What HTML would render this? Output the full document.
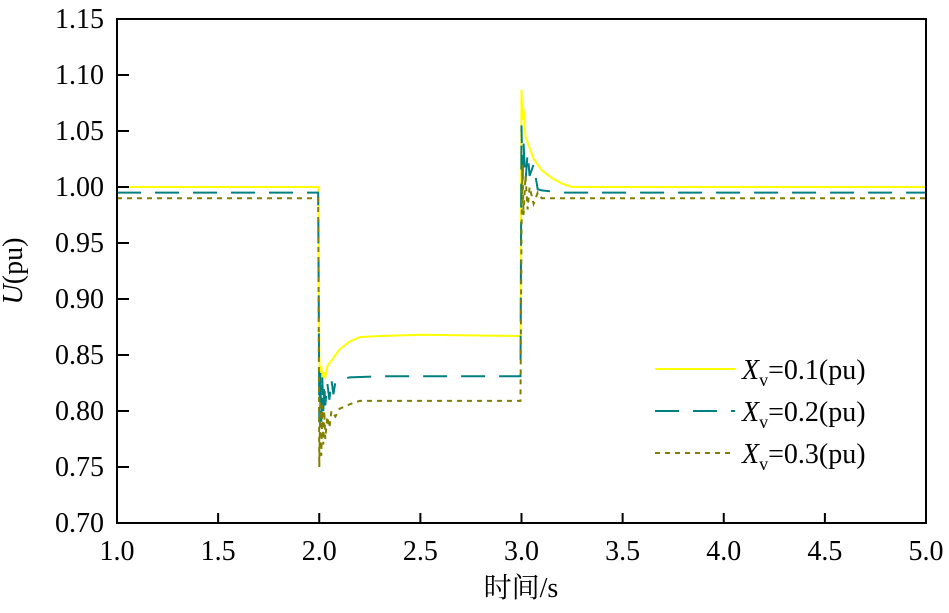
<!DOCTYPE html>
<html><head><meta charset="utf-8"><style>
body{margin:0;background:#fff}
svg text{font-family:"Liberation Serif","Noto Serif CJK SC",serif;fill:#000}
</style></head><body>
<svg width="949" height="608" xmlns="http://www.w3.org/2000/svg">
<g id="plot"></g>
<rect x="117" y="19" width="809" height="504" fill="none" stroke="#000" stroke-width="2"/>
<g id="axes"></g>
<text x="22" y="271" font-size="28" text-anchor="middle" transform="rotate(-90 22 271)"><tspan font-style="italic">U</tspan>(pu)</text>
<text x="521" y="597" font-size="28" text-anchor="middle">时间/s</text>
<g>
<line x1="655" y1="369" x2="735" y2="369" stroke="#ffff00" stroke-width="2"/>
<text x="742" y="379" font-size="28"><tspan font-style="italic">X</tspan><tspan font-size="18" dy="7">v</tspan><tspan dy="-7">=0.1(pu)</tspan></text>
<line x1="655" y1="411" x2="735" y2="411" stroke="#008080" stroke-width="2" stroke-dasharray="24,14"/>
<text x="742" y="421" font-size="28"><tspan font-style="italic">X</tspan><tspan font-size="18" dy="7">v</tspan><tspan dy="-7">=0.2(pu)</tspan></text>
<line x1="655" y1="453" x2="735" y2="453" stroke="#808000" stroke-width="2" stroke-dasharray="5,5"/>
<text x="742" y="463" font-size="28"><tspan font-style="italic">X</tspan><tspan font-size="18" dy="7">v</tspan><tspan dy="-7">=0.3(pu)</tspan></text>
</g>
</svg>
<script>
const xTicks=[1.0,1.5,2.0,2.5,3.0,3.5,4.0,4.5,5.0];
const yTicks=[0.70,0.75,0.80,0.85,0.90,0.95,1.00,1.05,1.10,1.15];
const t1=[1.0,1.995,2.0,2.005,2.01,2.015,2.02,2.03,2.04,2.06,2.08,2.1,2.15,2.2,2.3,2.5,2.99,2.995,3.0,3.005,3.01,3.02,3.04,3.06,3.1,3.15,3.2,3.25,5.0];
const v1=[1.0,1.0,0.85,0.82,0.84,0.825,0.835,0.83,0.84,0.845,0.85,0.855,0.862,0.866,0.867,0.868,0.867,0.867,1.087,1.06,1.07,1.045,1.035,1.025,1.015,1.008,1.003,1.0,1.0];
const t2=[1.0,1.995,2.0,2.005,2.01,2.015,2.02,2.025,2.03,2.04,2.05,2.06,2.07,2.08,2.1,2.15,2.3,2.99,2.995,3.0,3.005,3.01,3.02,3.03,3.04,3.06,3.08,3.1,3.2,5.0];
const v2=[0.995,0.995,0.79,0.835,0.79,0.83,0.8,0.825,0.805,0.825,0.81,0.828,0.815,0.826,0.828,0.83,0.831,0.831,0.831,1.055,1.0,1.04,1.005,1.03,1.01,1.02,0.998,0.997,0.995,0.995];
const t3=[1.0,1.995,2.0,2.005,2.01,2.015,2.02,2.025,2.03,2.04,2.05,2.06,2.08,2.1,2.15,2.2,2.99,2.995,3.0,3.005,3.01,3.02,3.03,3.04,3.06,3.08,3.1,3.15,5.0];
const v3=[0.99,0.99,0.75,0.81,0.76,0.805,0.77,0.8,0.775,0.795,0.785,0.8,0.795,0.802,0.806,0.809,0.809,0.809,0.96,1.02,0.975,1.01,0.98,1.0,0.985,0.995,0.99,0.99,0.99];
const X=v=>117+(v-1)*202.25, Y=v=>523-(v-0.7)*1120;
const NS='http://www.w3.org/2000/svg';
const plot=document.getElementById('plot'), axes=document.getElementById('axes');
function mk(p,tag,a){const e=document.createElementNS(NS,tag);for(const k in a)e.setAttribute(k,a[k]);p.appendChild(e);return e;}
function series(ts,vs,col,dash,name){
  const d=ts.map((t,i)=>(i?'L':'M')+X(t).toFixed(1)+' '+Y(vs[i]).toFixed(1)).join(' ');
  const p=mk(plot,'path',{d:d,fill:'none',stroke:col,'stroke-width':2,'stroke-dasharray':dash});
  
  
}
series(t1,v1,'#ffff00','none','series-xv-0.1');
series(t2,v2,'#008080','24,14','series-xv-0.2');
series(t3,v3,'#808000','5,5','series-xv-0.3');
xTicks.forEach(v=>{
  const l=mk(axes,'line',{x1:X(v),x2:X(v),y1:523,y2:513,stroke:'#000','stroke-width':2});
  
  
  const t=mk(axes,'text',{x:X(v),y:560,'font-size':28,'text-anchor':'middle'});
  t.textContent=v.toFixed(1);
  
  
});
yTicks.forEach(v=>{
  const l=mk(axes,'line',{x1:117,x2:129,y1:Y(v),y2:Y(v),stroke:'#000','stroke-width':2});
  
  
  const t=mk(axes,'text',{x:104,y:Y(v)+9,'font-size':28,'text-anchor':'end'});
  t.textContent=v.toFixed(2);
  
  
});
</script>
</body></html>
